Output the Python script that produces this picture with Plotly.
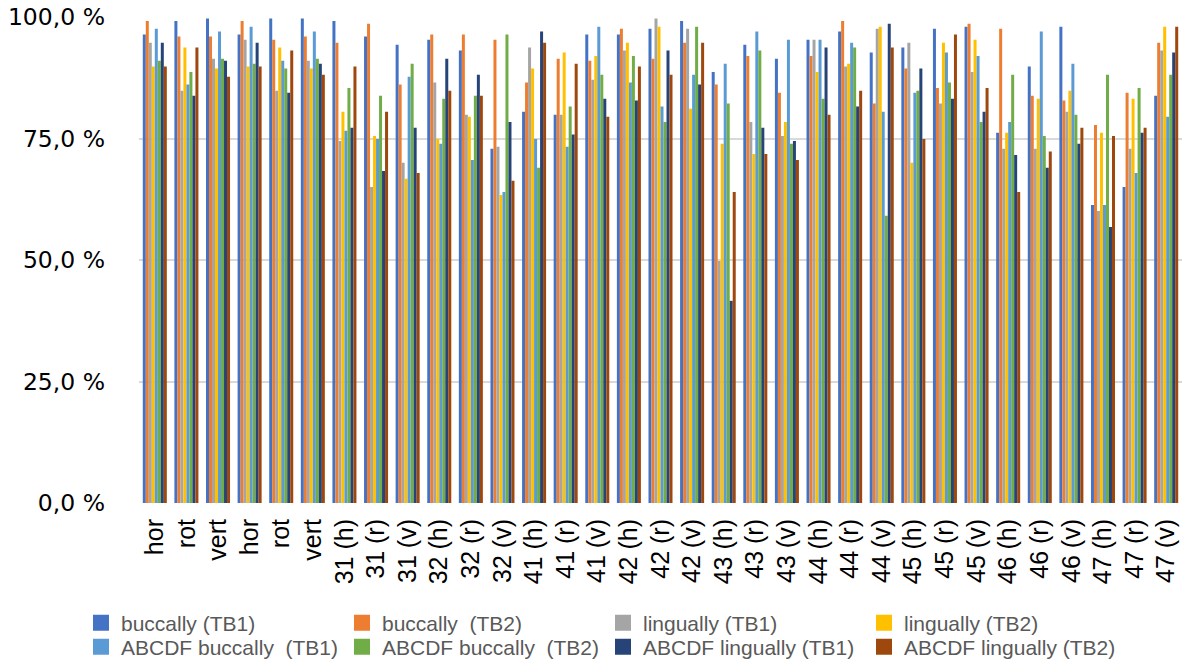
import plotly.graph_objects as go

categories = ["hor", "rot", "vert", "hor", "rot", "vert",
              "31 (h)", "31 (r)", "31 (v)", "32 (h)", "32 (r)", "32 (v)",
              "41 (h)", "41 (r)", "41 (v)", "42 (h)", "42 (r)", "42 (v)",
              "43 (h)", "43 (r)", "43 (v)", "44 (h)", "44 (r)", "44 (v)",
              "45 (h)", "45 (r)", "45 (v)", "46 (h)", "46 (r)", "46 (v)",
              "47 (h)", "47 (r)", "47 (v)"]

buccally_tb1 = [96.4, 99.2, 99.7, 96.4, 99.7, 99.7, 99.2, 96.0, 94.3, 95.3, 93.1, 72.9,
                80.5, 79.9, 96.4, 96.4, 97.6, 99.2, 88.7, 94.3, 91.4, 95.3, 97.0, 92.7,
                93.7, 97.6, 98.0, 76.2, 89.8, 98.0, 61.3, 65.0, 83.8]
buccally_tb2 = [99.2, 96.0, 96.0, 99.2, 95.3, 96.0, 94.7, 98.6, 86.1, 96.4, 96.4, 95.3,
                86.5, 91.4, 91.0, 97.6, 91.4, 94.7, 86.1, 92.0, 84.4, 92.0, 99.2, 82.2,
                89.4, 85.4, 98.6, 97.6, 83.8, 82.8, 77.8, 84.4, 94.7]
lingually_tb1 = [94.7, 84.8, 91.4, 95.3, 84.8, 91.0, 74.5, 65.0, 70.0, 86.5, 79.9, 73.3,
                 93.7, 79.9, 87.1, 93.1, 99.7, 97.6, 49.8, 78.4, 75.5, 95.3, 89.8, 97.6,
                 94.7, 82.2, 88.7, 72.9, 72.9, 80.5, 60.1, 72.9, 93.1]
lingually_tb2 = [89.8, 93.7, 89.4, 89.8, 93.7, 89.4, 80.5, 75.5, 66.7, 74.9, 79.5, 63.4,
                 89.4, 92.7, 92.0, 94.7, 98.0, 81.1, 73.9, 71.8, 78.4, 88.7, 90.4, 98.0,
                 70.0, 94.7, 95.3, 76.2, 83.2, 84.8, 76.2, 83.2, 98.0]
abcdf_buccally_tb1 = [97.6, 86.1, 97.0, 98.0, 91.0, 97.0, 76.6, 74.9, 87.7, 73.9, 70.6, 64.0,
                      74.9, 73.3, 98.0, 86.5, 81.6, 88.1, 90.4, 97.0, 95.3, 95.3, 94.7, 80.5,
                      84.4, 92.7, 92.0, 78.4, 97.0, 90.4, 61.3, 67.9, 79.5]
abcdf_buccally_tb2 = [91.0, 88.7, 91.4, 90.4, 89.4, 91.4, 85.4, 83.8, 90.4, 83.2, 83.8, 96.4,
                      69.0, 81.6, 88.1, 92.0, 78.4, 98.0, 82.2, 93.1, 73.9, 83.2, 93.7, 59.1,
                      84.8, 86.5, 78.4, 88.1, 75.5, 79.9, 88.1, 85.4, 88.1]
abcdf_lingually_tb1 = [94.7, 83.8, 91.0, 94.7, 84.4, 90.4, 77.2, 68.3, 77.2, 91.4, 88.1, 78.4,
                       97.0, 75.8, 83.2, 82.8, 93.1, 86.1, 41.6, 77.2, 74.5, 93.7, 81.6, 98.6,
                       89.4, 83.2, 80.5, 71.6, 69.0, 73.9, 56.8, 76.2, 92.7]
abcdf_lingually_tb2 = [89.8, 93.7, 87.7, 89.8, 93.1, 88.1, 89.8, 80.5, 67.9, 84.8, 83.8, 66.3,
                       94.7, 90.4, 79.5, 89.8, 88.1, 94.7, 64.0, 71.8, 70.6, 79.9, 84.8, 93.7,
                       74.9, 96.4, 85.4, 64.0, 72.3, 77.2, 75.5, 77.2, 98.0]

series_names = ["buccally (TB1)", "buccally \u00a0(TB2)", "lingually (TB1)", "lingually (TB2)",
                "ABCDF buccally \u00a0(TB1)", "ABCDF buccally \u00a0(TB2)",
                "ABCDF lingually (TB1)", "ABCDF lingually (TB2)"]
series_values = [buccally_tb1, buccally_tb2, lingually_tb1, lingually_tb2,
                 abcdf_buccally_tb1, abcdf_buccally_tb2, abcdf_lingually_tb1, abcdf_lingually_tb2]
colors = ["#4472C4", "#ED7D31", "#A5A5A5", "#FFC000",
          "#5B9BD5", "#70AD47", "#264478", "#9E480E"]
y_ticks = [0, 25, 50, 75, 100]
y_tick_labels = ["0,0 %", "25,0 %", "50,0 %", "75,0 %", "100,0 %"]

x_idx = list(range(len(categories)))

fig = go.Figure()
for name, vals, col in zip(series_names, series_values, colors):
    fig.add_trace(go.Bar(x=x_idx, y=vals, name=name, marker=dict(color=col, line=dict(width=0)),
                         showlegend=False))

# legend entries (two rows, as two legends)
for i, (name, col) in enumerate(zip(series_names, colors)):
    fig.add_trace(go.Scatter(x=[None], y=[None], mode="markers", name=name,
                             marker=dict(symbol="square", size=18, color=col),
                             legend="legend" if i < 4 else "legend2"))

W, H = 1184, 661
ml, mr, mt, mb = 139, 2, 17, 158
pw, ph = W - ml - mr, H - mt - mb


def px_x(p):
    return (p - ml) / pw


def px_y(p):
    return (H - mb - p) / ph


legend_common = dict(orientation="h", xref="paper", yref="paper",
                     x=px_x(81), xanchor="left", yanchor="middle",
                     entrywidth=216, entrywidthmode="pixels",
                     font=dict(family="Liberation Sans, Arial, sans-serif", size=21, color="#595959"),
                     bgcolor="rgba(0,0,0,0)", itemclick=False, itemdoubleclick=False)

fig.update_layout(
    width=W, height=H,
    margin=dict(l=ml, r=mr, t=mt, b=mb, autoexpand=False),
    paper_bgcolor="white", plot_bgcolor="white",
    barmode="group", bargap=0.24, bargroupgap=0,
    legend=dict(**legend_common, y=px_y(623)),
    legend2=dict(**legend_common, y=px_y(647)),
    xaxis=dict(tickmode="array", tickvals=x_idx, ticktext=categories, tickangle=-90,
               range=[-0.5, len(categories) - 0.5], showgrid=False, zeroline=False,
               showline=False, ticks="", ticklabelstandoff=10,
               tickfont=dict(family="Liberation Sans, Arial, sans-serif", size=25, color="#000000")),
    yaxis=dict(range=[0, 100], tickmode="array", tickvals=y_ticks, ticktext=y_tick_labels,
               showgrid=True, gridcolor="#D9D9D9", gridwidth=2,
               zeroline=False, showline=False, ticks="", ticklabelstandoff=33,
               tickfont=dict(family="DejaVu Sans, sans-serif", size=23.5, color="#000000")),
)

fig.write_html("out.html", config={"displayModeBar": False},
               post_script="document.body.style.margin='0';document.body.style.padding='0';")
